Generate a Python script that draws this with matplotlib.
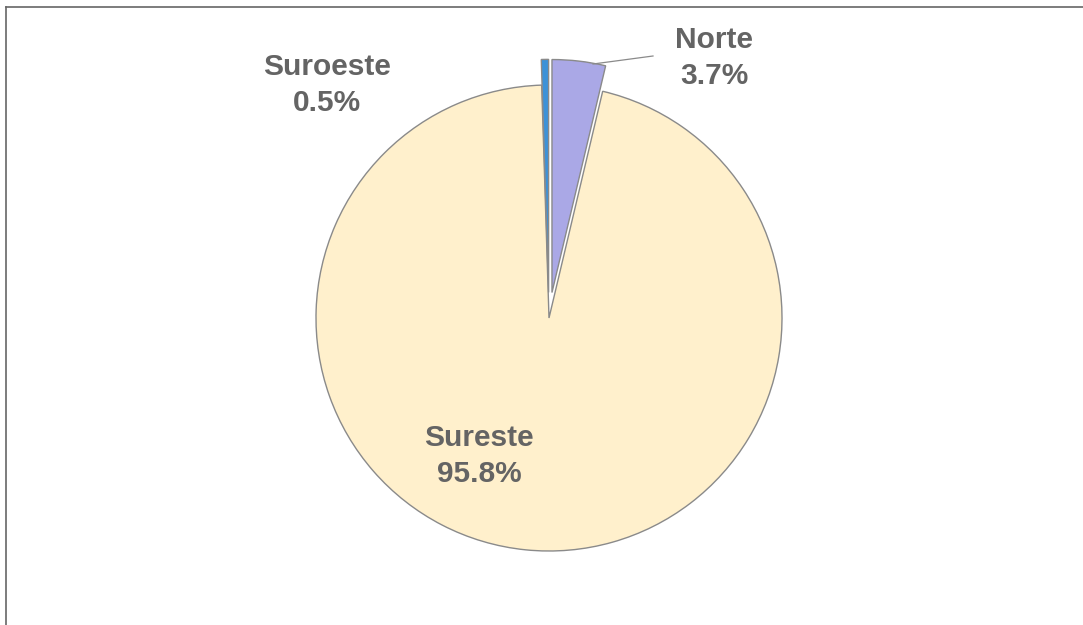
import matplotlib.pyplot as plt

# datos
regiones = ['Norte', 'Sureste', 'Suroeste']
porcentajes = [3.7, 95.8, 0.5]
colores = ['#aaa8e6', '#fff0cc', '#3d92d8']
separar = [0.11, 0.0, 0.11]

W, H = 1083, 625
R = 233.0          # radio del pastel en px
cx, cy = 549, 318  # centro en px

fig = plt.figure(figsize=(W / 100, H / 100), dpi=100)
ax = fig.add_axes([0, 0, 1, 1])


def px(x, y):
    return (x - cx) / R, (cy - y) / R


ax.pie(porcentajes, colors=colores, explode=separar, startangle=90,
       counterclock=False, radius=1.0,
       wedgeprops=dict(edgecolor='#8a8a8a', linewidth=1.0))
# pie() cambia los limites, se fijan despues
ax.set_aspect('auto')
ax.set_xlim(-cx / R, (W - cx) / R)
ax.set_ylim(-(H - cy) / R, cy / R)
ax.axis('off')

estilo = dict(ha='center', va='center', fontsize=21.5, fontweight='bold',
              color='#646464', family=['Liberation Sans', 'DejaVu Sans'],
              linespacing=1.38)
ax.text(*px(714, 58), 'Norte\n3.7%', **estilo)
ax.text(*px(327, 85), 'Suroeste\n0.5%', **estilo)
ax.text(*px(479, 456), 'Sureste\n95.8%', **estilo)

# linea guia de Norte
x0, y0 = px(593, 64)
x1, y1 = px(653, 56)
ax.plot([x0, x1], [y0, y1], color='#8a8a8a', lw=0.9)

# marco (solo arriba e izquierda)
fig.add_artist(plt.Line2D([5.5 / W, 1], [1 - 6.5 / H, 1 - 6.5 / H],
                          color='#666666', lw=1.2))
fig.add_artist(plt.Line2D([5.5 / W, 5.5 / W], [0, 1 - 6.5 / H],
                          color='#666666', lw=1.2))

fig.savefig('out.png', dpi=100, facecolor='white')
